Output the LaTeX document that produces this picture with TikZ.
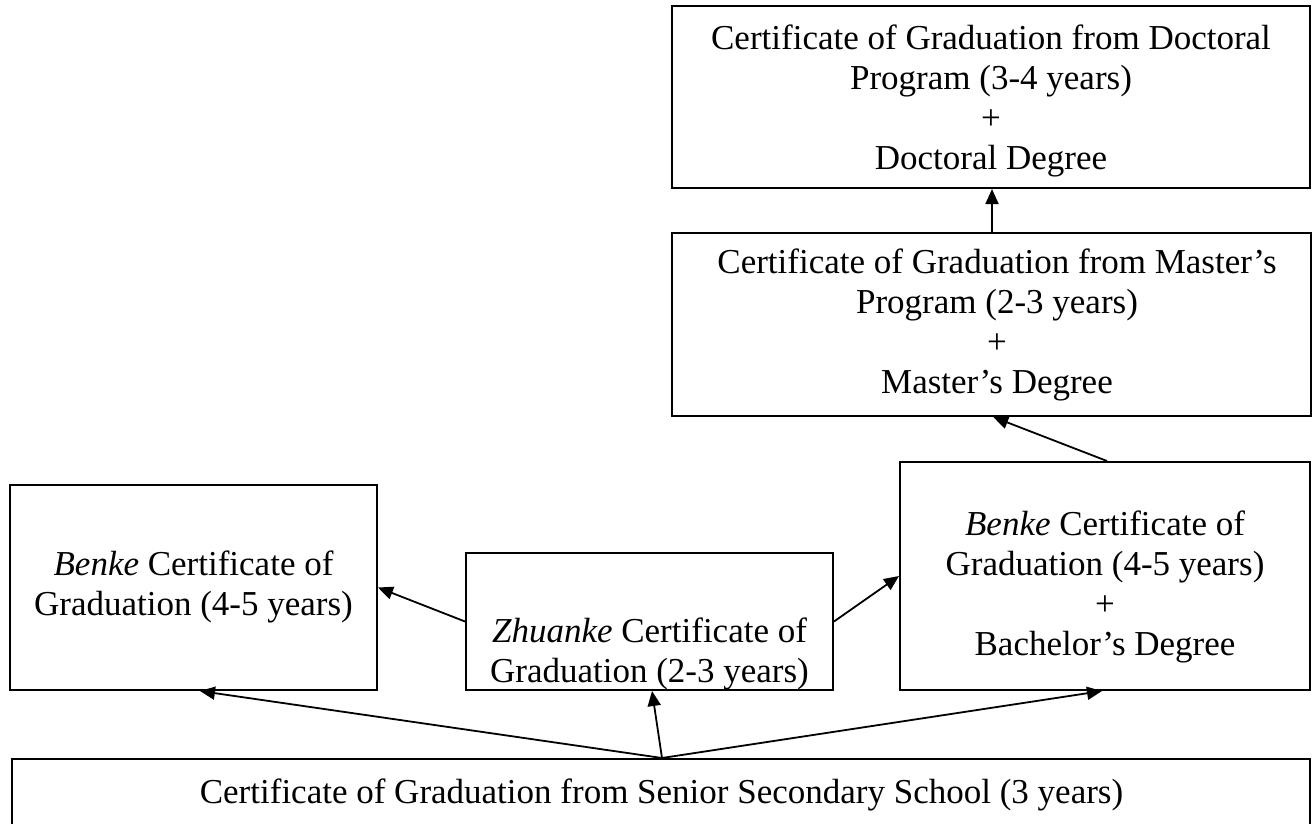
\documentclass[tikz,border=0pt]{standalone}
\usepackage{fontspec}
\setmainfont{Liberation Serif}
\usetikzlibrary{arrows.meta,calc}
\begin{document}
\begin{tikzpicture}[x=1pt,y=-1pt,
  box/.style={draw, line width=2pt, inner sep=0pt},
  ln/.style={anchor=base, inner sep=0pt, font=\fontsize{35}{40}\selectfont},
  arr/.style={line width=1.8pt, -{Triangle[length=15pt,width=13pt]}}]
\useasboundingbox (0,0) rectangle (1312,824);
\clip (0,0) rectangle (1312,824);
% boxes
\node[box, minimum width=638, minimum height=182] (doc) at (991,97) {};
\node[box, minimum width=638.5, minimum height=183] (mas) at (991.25,324.5) {};
\node[box, minimum width=367, minimum height=205] (lb) at (193.5,587.5) {};
\node[box, minimum width=367, minimum height=137] (zh) at (649.5,621.5) {};
\node[box, minimum width=410, minimum height=228] (rb) at (1105,576) {};
\node[box, minimum width=1298, minimum height=141] (sec) at (661,829.5) {};
% texts
\node[ln] (d1) at (991,50) {Certificate of Graduation from Doctoral};
\node[ln] (d2) at (991,90) {Program (3-4 years)};
\node[ln] (d3) at (991,130) {+};
\node[ln] (d4) at (991,170) {Doctoral Degree};
\node[ln] (m1) at (997,273) {Certificate of Graduation from Master’s};
\node[ln] (m2) at (997,313) {Program (2-3 years)};
\node[ln] (m3) at (997,353) {+};
\node[ln] (m4) at (997,393) {Master’s Degree};
\node[ln] (l1) at (193.5,575) {\textit{Benke} Certificate of};
\node[ln] (l2) at (193.5,615) {Graduation (4-5 years)};
\begin{scope}
\clip (zh.south west) rectangle (zh.north east);
\node[ln] (z1) at (649.5,642) {\textit{Zhuanke} Certificate of};
\node[ln] (z2) at (649.5,682) {Graduation (2-3 years)};
\end{scope}
\node[ln] (r1) at (1105,535) {\textit{Benke} Certificate of};
\node[ln] (r2) at (1105,575) {Graduation (4-5 years)};
\node[ln] (r3) at (1105,615) {+};
\node[ln] (r4) at (1105,655) {Bachelor’s Degree};
\node[ln] (s1) at (661.5,803) {Certificate of Graduation from Senior Secondary School (3 years)};
% connectors
\draw[arr] ([xshift=1pt]doc.south |- mas.north) -- ([xshift=1pt]doc.south);
\draw[arr] ([xshift=2pt]rb.north) -- ([xshift=2pt]mas.south);
\draw[arr] (zh.west) -- (lb.east);
\draw[arr] (zh.east) -- (rb.west);
\coordinate (hub) at ([xshift=1pt]sec.north);
\draw[arr] (hub) -- ([xshift=6.5pt]lb.south);
\draw[arr] (hub) -- ([xshift=2.5pt]zh.south);
\draw[arr] (hub) -- ([xshift=-3pt]rb.south);
\end{tikzpicture}
\end{document}
